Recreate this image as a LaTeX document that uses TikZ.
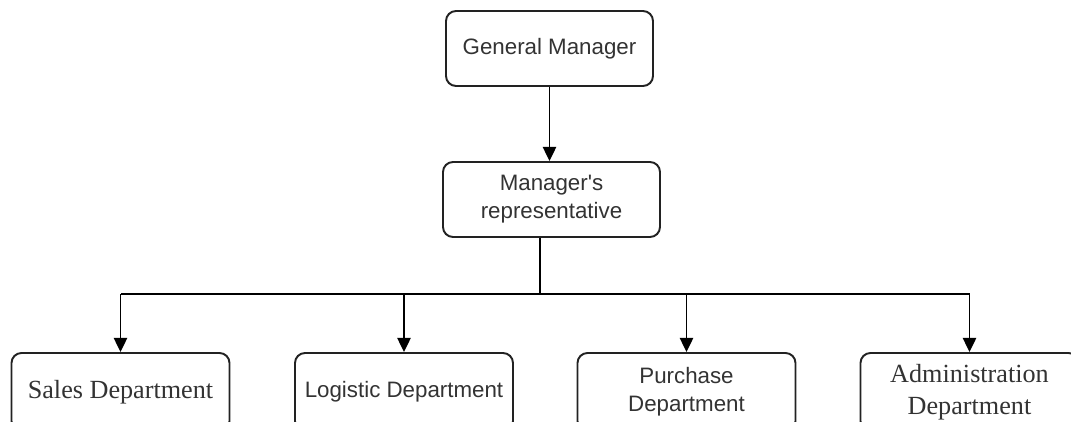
\documentclass[tikz,border=0pt]{standalone}
\usepackage{fontspec}
\setmainfont{Liberation Serif}
\newfontfamily\arialfont{Liberation Sans}
\usetikzlibrary{arrows.meta, calc}
\definecolor{boxline}{HTML}{222222}
\definecolor{textcolor}{HTML}{333333}

\begin{document}
\begin{tikzpicture}[
    every node/.style={text=textcolor},
    sans/.style={font=\arialfont\fontsize{12.7}{15.9}\selectfont},
    serif/.style={font=\fontsize{14.9}{18}\selectfont},
    unit/.style={rectangle, rounded corners=0.2cm, draw=boxline, line width=1.1pt,
                 fill=white, align=center, inner sep=0pt, minimum height=1.5cm},
    dept/.style={unit, minimum width=4.36cm, minimum height=1.56cm},
    link/.style={black, line width=1.1pt},
    tip/.style={link, -{Triangle[length=8pt, width=7.5pt]}},
]
\useasboundingbox (0,0) rectangle (21.42,8.44);
\clip (0,0) rectangle (21.42,8.44);

% ================================================ top of the chart
\node[unit, sans, minimum width=4.14cm] (gm) at (10.99, 7.47) {General Manager};
\node[unit, sans, minimum width=4.34cm] (rep) at (11.03, 4.45) {Manager's\\representative};
\draw[tip] (gm.south) -- (gm.south |- rep.north);

% ================================================ departments
\node[dept, serif] (sales) at (2.41, 0.60) {Sales Department};
\node[dept, sans]  (logi)  at (8.08, 0.60) {Logistic Department};
\node[dept, sans]  (purch) at (13.73, 0.60) {Purchase\\Department};
\node[dept, serif] (admin) at (19.39, 0.60) {Administration\\Department};

% the branches
\coordinate (out) at ($(rep.south)+(-0.23,0)$);
\coordinate (bus) at (0, 2.56);
\foreach \d in {sales, logi, purch, admin}{
    \draw[link] (out) |- (bus -| \d.north);
    \draw[tip] (bus -| \d.north) -- (\d.north);
}

\end{tikzpicture}
\end{document}
